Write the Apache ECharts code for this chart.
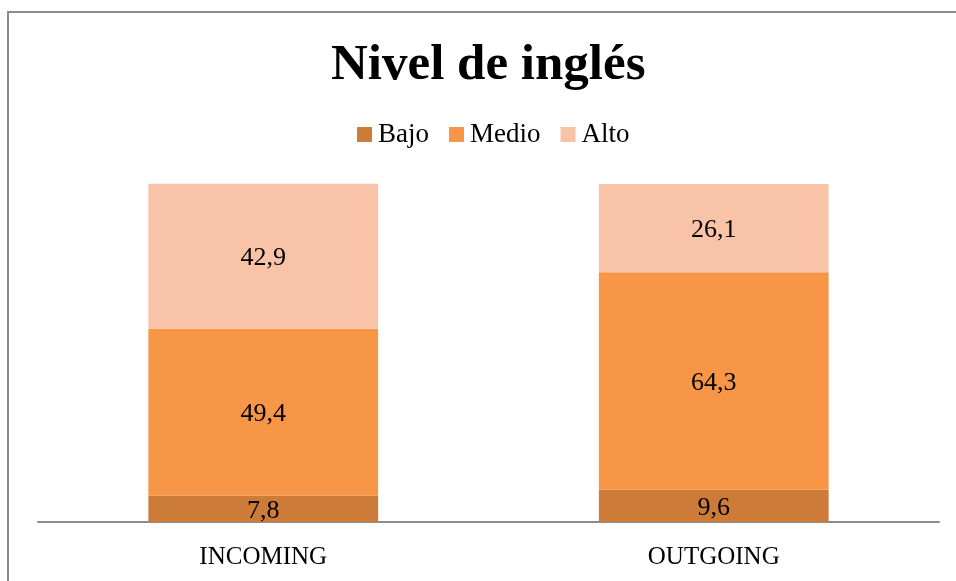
<!DOCTYPE html>
<html>
<head>
<meta charset="utf-8">
<script src="https://cdn.jsdelivr.net/npm/echarts@6/dist/echarts.min.js"></script>
<style>
html, body { margin: 0; padding: 0; background: #fff; }
#chart { width: 956px; height: 581px; }
</style>
</head>
<body>
<div id="chart"></div>
<script>
// datos
var categorias = ['INCOMING', 'OUTGOING'];
var bajo = [7.8, 9.6];
var medio = [49.4, 64.3];
var alto = [42.9, 26.1];

var fuente = '"Liberation Serif", "DejaVu Serif", serif';

function etiqueta(v) {
    return String(v.value).replace('.', ',');
}

function serie(nombre, datos, color) {
    return {
        name: nombre,
        type: 'bar',
        stack: 'total',
        barWidth: '51%',
        clip: false,
        data: datos,
        itemStyle: { color: color },
        label: {
            show: true,
            position: 'inside',
            color: '#000',
            fontFamily: fuente,
            fontSize: 26,
            offset: [0, 2],
            formatter: etiqueta
        }
    };
}

var chart = echarts.init(document.getElementById('chart'));
chart.setOption({
    animation: false,
    title: {
        text: 'Nivel de inglés',
        left: 326,
        top: 35,
        textStyle: { fontFamily: fuente, fontWeight: 'bold', fontSize: 51, color: '#000' }
    },
    legend: {
        top: 116,
        left: 352,
        itemWidth: 15,
        itemHeight: 15,
        itemGap: 20,
        icon: 'rect',
        textStyle: { fontFamily: fuente, fontSize: 27, color: '#000', padding: [0, 0, 0, 1] },
        data: ['Bajo', 'Medio', 'Alto']
    },
    grid: { left: 38, right: 17, top: 184, bottom: 59 },
    xAxis: {
        type: 'category',
        data: categorias,
        axisLine: { lineStyle: { color: '#8c8c8c', width: 2 } },
        axisTick: { show: false },
        axisLabel: { fontFamily: fuente, fontSize: 25, color: '#000', margin: 23 }
    },
    yAxis: {
        type: 'value',
        min: 0,
        max: 100,
        show: false,
        splitLine: { show: false }
    },
    graphic: [{
        type: 'polyline',
        shape: { points: [[8, 600], [8, 12], [960, 12]] },
        style: { stroke: '#8c8c8c', lineWidth: 2, fill: null }
    }],
    series: [
        serie('Bajo', bajo, '#cd7b38'),
        serie('Medio', medio, '#f79646'),
        serie('Alto', alto, '#f9c3a8')
    ]
});
</script>
</body>
</html>
